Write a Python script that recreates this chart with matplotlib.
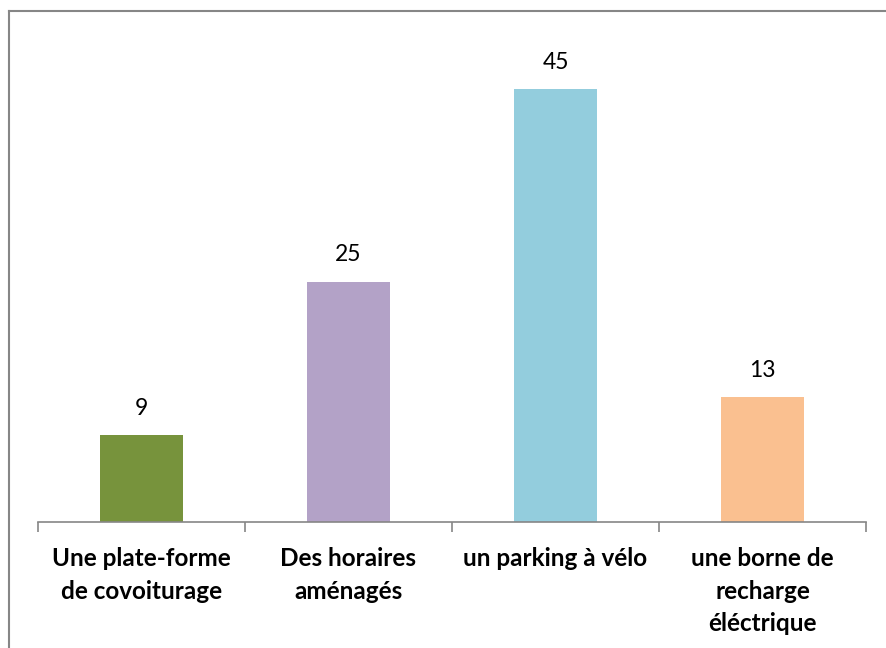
import numpy as np
import matplotlib.pyplot as plt
from matplotlib.lines import Line2D

# data
categories = ["Une plate-forme\nde covoiturage", "Des horaires\naménagés",
              "un parking à vélo", "une borne de\nrecharge\néléctrique"]
values = [9, 25, 45, 13]
colors = ["#77933C", "#B3A2C7", "#93CDDD", "#FAC090"]

W, H = 887, 648
fig = plt.figure(figsize=(W / 100, H / 100), dpi=100)
ax = fig.add_axes([38 / W, 1 - 522 / H, (866 - 38) / W, (522 - 41) / H])

x = np.arange(len(values))
bars = ax.bar(x, values, width=0.4, color=colors)
for b, v in zip(bars, values):
    ax.text(b.get_x() + b.get_width() / 2, v + 2.08, str(v), ha="center", va="baseline",
            fontsize=16.5, family="Lato", color="#000000")

ax.set_xlim(-0.5, len(values) - 0.5)
ax.set_ylim(0, 50)
ax.set_yticks([])
for s in ["top", "right", "left"]:
    ax.spines[s].set_visible(False)
ax.spines["bottom"].set_color("#868686")
ax.spines["bottom"].set_linewidth(1.2)

# category boundary ticks
ax.set_xticks(np.arange(-0.5, len(values), 1.0))
ax.set_xticklabels([])
ax.tick_params(axis="x", length=7, color="#868686", width=1.2)
for i, c in enumerate(categories):
    ax.text(i, -2.6, c, ha="center", va="top", fontsize=17.5, fontweight="bold",
            family="Lato", linespacing=1.5)

# chart border (left and top visible)
fig.add_artist(Line2D([9.5 / W, 9.5 / W], [0, 1 - 10.5 / H], transform=fig.transFigure,
                      color="#868686", lw=1.5))
fig.add_artist(Line2D([9 / W, 1], [1 - 10.5 / H, 1 - 10.5 / H], transform=fig.transFigure,
                      color="#868686", lw=1.5))

fig.savefig("out.png", dpi=100)
